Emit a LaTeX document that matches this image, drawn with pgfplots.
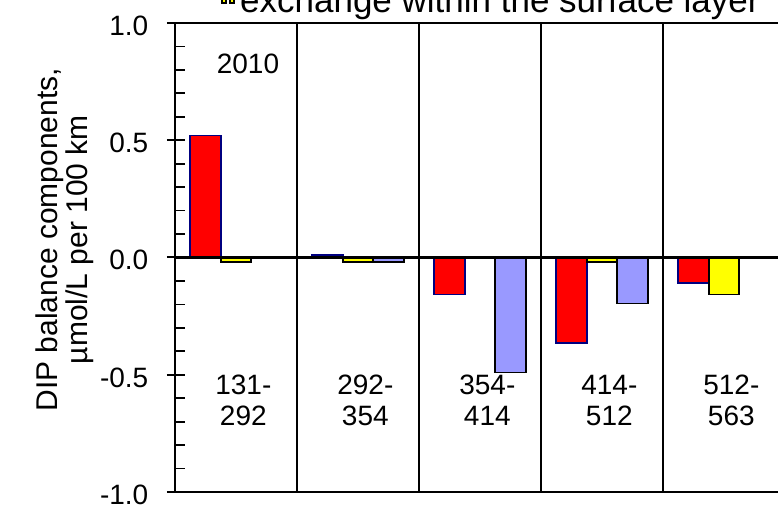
\documentclass[border=0pt]{standalone}
\usepackage{fontspec}
\setmainfont{Liberation Sans}
\usepackage{pgfplots}
\pgfplotsset{compat=1.18}
\definecolor{barred}{HTML}{FF0000}
\definecolor{baryellow}{HTML}{FFFF00}
\definecolor{barblue}{HTML}{9999FF}
\definecolor{navyedge}{HTML}{000080}
\definecolor{legedge}{HTML}{E0B000}
\begin{document}
\begin{tikzpicture}
\begin{axis}[
 name=ax,
 scale only axis, width=453.84pt, height=351.75pt,
 xmin=0, xmax=4.96, ymin=-1, ymax=1,
 font=\fontsize{21}{23.5}\selectfont,
 axis line style={line width=2pt},
 xtick={1,2,3,4}, xticklabels={}, xtick style={draw=none},
 xmajorgrids, major x grid style={black, line width=1.5pt},
 ytick={-1,-0.5,0,0.5,1}, minor y tick num=4, ytick pos=left,
 tick align=inside, major tick length=7.5pt, minor tick length=7.5pt,
 major tick style={line width=1.5pt, black}, minor tick style={line width=1.3pt, black},
 extra y ticks={-1,-0.5,0,0.5,1}, extra y tick labels={},
 extra y tick style={tick align=outside, major tick length=6pt},
 yticklabel style={xshift=-16.5pt, yshift=-2pt, /pgf/number format/.cd, fixed, fixed zerofill, precision=1, assume math mode=true},
 ylabel={DIP balance components,\\µmol/L per 100 km},
 every axis y label/.style={at={(axis description cs:-0.183,0.538)}, anchor=center, rotate=90, align=center, font=\fontsize{22.5}{22.5}\selectfont},
 legend style={at={(axis description cs:0.076,1.0185)}, anchor=south west, draw=none, fill=none, inner sep=0pt, nodes={inner sep=0pt}, column sep=4pt, font=\fontsize{26.25}{28}\selectfont},
 legend image code/.code={\draw[fill=baryellow, draw=legedge, line width=0.8pt] (0pt,3pt) rectangle (13.5pt,14pt);},
 ybar, bar width=0.25, bar shift=0pt,
]
\addplot[ybar, bar width=0.25, bar shift=0pt, fill=barred, draw=navyedge, line width=1.2pt, forget plot]
 coordinates {(0.25,0.52) (1.25,0.01) (2.25,-0.158) (3.25,-0.364) (4.25,-0.108)};
\addplot[ybar, bar width=0.25, bar shift=0pt, fill=baryellow, draw=black, line width=1.2pt]
 coordinates {(0.5,-0.02) (1.5,-0.02) (3.5,-0.018) (4.5,-0.158)};
\addlegendentry{exchange within the surface layer}
\addplot[ybar, bar width=0.25, bar shift=0pt, fill=barblue, draw=black, line width=1.2pt, forget plot]
 coordinates {(1.75,-0.02) (2.75,-0.49) (3.75,-0.196)};
\draw[line width=2pt] (axis cs:0,0) -- (axis cs:4.96,0);
\node[anchor=center] at (axis cs:0.598,0.827) {2010};
\node[anchor=center, align=center] at (axis cs:0.56,-0.61) {131-\\292};
\node[anchor=center, align=center] at (axis cs:1.56,-0.61) {292-\\354};
\node[anchor=center, align=center] at (axis cs:2.56,-0.61) {354-\\414};
\node[anchor=center, align=center] at (axis cs:3.56,-0.61) {414-\\512};
\node[anchor=center, align=center] at (axis cs:4.56,-0.61) {512-\\563};
\end{axis}
\pgfresetboundingbox
\path[use as bounding box] ([shift={(-131.25pt,-12.75pt)}]ax.south west) rectangle ([shift={(452.25pt,369pt)}]ax.south west);
\end{tikzpicture}
\end{document}
